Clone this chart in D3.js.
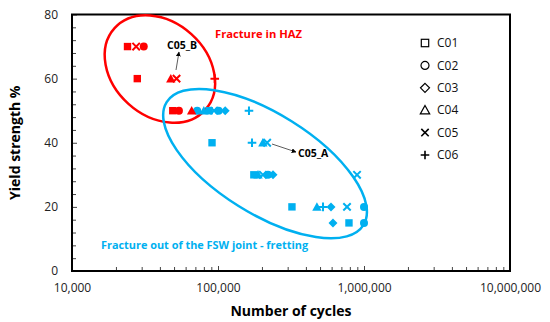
<!DOCTYPE html>
<html>
<head>
<meta charset="utf-8">
<script src="https://cdn.jsdelivr.net/npm/d3@7"></script>
<style>
  body { margin: 0; background: #fff; }
  svg { display: block; font-family: 'Open Sans', sans-serif; }
</style>
</head>
<body>
<div class="chart"></div>
<script>
'use strict'

// [cycles, yield strength %, fracture mode]  mode: 'haz' | 'fret'
const c01 = [
  [24000, 70, 'haz'], [28000, 60, 'haz'], [49000, 50, 'haz'],
  [87000, 50, 'fret'], [91000, 40, 'fret'], [176000, 30, 'fret'],
  [321000, 20, 'fret'], [789000, 15, 'fret']
]
const c02 = [
  [31000, 70, 'haz'], [54000, 50, 'haz'],
  [72000, 50, 'fret'], [101000, 50, 'fret'], [220000, 30, 'fret'],
  [1000000, 20, 'fret'], [1000000, 15, 'fret']
]
const c03 = [
  [112000, 50, 'fret'], [238000, 30, 'fret'],
  [594000, 20, 'fret'], [613000, 15, 'fret']
]
const c04 = [
  [47500, 60, 'haz'], [66000, 50, 'haz'],
  [80000, 50, 'fret'], [203000, 40, 'fret'], [188000, 30, 'fret'],
  [476000, 20, 'fret']
]
const c05 = [
  [27500, 70, 'haz'], [52000, 60, 'haz'],
  [94000, 50, 'fret'], [217000, 40, 'fret'], [203000, 30, 'fret'],
  [896000, 30, 'fret'], [765000, 20, 'fret']
]
const c06 = [
  [95000, 60, 'haz'],
  [163000, 50, 'fret'], [171000, 40, 'fret'], [524000, 20, 'fret']
]

const seriesNames = ['C01', 'C02', 'C03', 'C04', 'C05', 'C06']
const seriesData = [c01, c02, c03, c04, c05, c06]
const seriesShapes = ['square', 'circle', 'diamond', 'triangle', 'x', 'plus']

const xMajor = [1e4, 1e5, 1e6, 1e7]
const yMajor = [0, 20, 40, 60, 80]

const modeColor = { haz: '#ff0000', fret: '#00b0f0' }

const width = 550
const height = 322
const margin = { top: 14.5, right: 40, bottom: 51, left: 72 }

const x = d3.scaleLog()
    .domain([1e4, 1e7])
    .range([margin.left, width - margin.right])
const y = d3.scaleLinear()
    .domain([0, 80])
    .range([height - margin.bottom, margin.top])

const svg = d3.select('.chart').append('svg')
    .attr('width', width)
    .attr('height', height)

// minor ticks
const xMinor = []
for (let dec = 1e4; dec < 1e7; dec *= 10) {
  for (let k = 2; k < 10; k++) xMinor.push(dec * k)
}
const yMinor = d3.range(4, 80, 4).filter(v => v % 20 !== 0)

svg.append('g')
    .attr('transform', `translate(0,${y(0)})`)
    .call(d3.axisBottom(x).tickValues(xMinor).tickFormat('').tickSize(-4).tickSizeOuter(0))
    .call(g => g.select('.domain').remove())
svg.append('g')
    .attr('transform', `translate(${x(1e4)},0)`)
    .call(d3.axisLeft(y).tickValues(yMinor).tickFormat('').tickSize(-4).tickSizeOuter(0))
    .call(g => g.select('.domain').remove())

const xAxis = svg.append('g')
    .attr('transform', `translate(0,${y(0)})`)
    .call(d3.axisBottom(x).tickValues(xMajor).tickFormat(d3.format(',')).tickSize(-5).tickSizeOuter(0).tickPadding(12))
xAxis.select('.domain').remove()

const yAxis = svg.append('g')
    .attr('transform', `translate(${x(1e4)},0)`)
    .call(d3.axisLeft(y).tickValues(yMajor).tickSize(-5).tickSizeOuter(0).tickPadding(14))
yAxis.select('.domain').remove()

svg.selectAll('.tick text')
    .style('font-size', '12px')
    .style('font-family', "'Open Sans', sans-serif")
    .attr('fill', '#222')
svg.selectAll('.tick line').attr('stroke', '#444')

// plot frame
svg.append('rect')
    .attr('x', x(1e4))
    .attr('y', y(80))
    .attr('width', x(1e7) - x(1e4))
    .attr('height', y(0) - y(80))
    .attr('fill', 'none')
    .attr('stroke', '#000')
    .attr('stroke-width', 2)

// axis titles
svg.append('text')
    .attr('x', (x(1e4) + x(1e7)) / 2)
    .attr('y', 316)
    .attr('text-anchor', 'middle')
    .style('font-size', '14px')
    .style('font-weight', 'bold')
    .text('Number of cycles')

svg.append('text')
    .attr('transform', `translate(20,${(y(0) + y(80)) / 2}) rotate(-90)`)
    .attr('text-anchor', 'middle')
    .style('font-size', '14px')
    .style('font-weight', 'bold')
    .text('Yield strength %')

// ellipses round the two groups
const zones = [
  { c: [40000, 63], rx: 61, ry: 47, rot: 42, color: modeColor.haz },
  { c: [210000, 33.5], rx: 116, ry: 50, rot: 32, color: modeColor.fret }
]
svg.selectAll('.zone')
    .data(zones)
  .enter().append('ellipse')
    .attr('class', 'zone')
    .attr('transform', d => `translate(${x(d.c[0])},${y(d.c[1])}) rotate(${d.rot})`)
    .attr('rx', d => d.rx)
    .attr('ry', d => d.ry)
    .attr('fill', 'none')
    .attr('stroke', d => d.color)
    .attr('stroke-width', 2.5)

// markers
function drawShape(sel, shape, color, filled) {
  const s = 3.7
  if (shape === 'square') {
    sel.append('rect').attr('x', -s).attr('y', -s).attr('width', 2 * s).attr('height', 2 * s)
  } else if (shape === 'circle') {
    sel.append('circle').attr('r', s + 0.3)
  } else if (shape === 'diamond') {
    const r = s + 0.8
    sel.append('path').attr('d', `M0,${-r}L${r},0L0,${r}L${-r},0Z`)
  } else if (shape === 'triangle') {
    const r = s + 1
    sel.append('path').attr('d', `M0,${-r}L${r},${r * 0.8}L${-r},${r * 0.8}Z`)
  } else if (shape === 'x') {
    sel.append('path').attr('d', `M${-s},${-s}L${s},${s}M${s},${-s}L${-s},${s}`)
  } else {
    const r = s + 0.6
    sel.append('path').attr('d', `M${-r},0L${r},0M0,${-r}L0,${r}`)
  }
  const stroked = shape === 'x' || shape === 'plus'
  sel.selectAll('*')
      .attr('fill', stroked ? 'none' : (filled ? color : '#fff'))
      .attr('stroke', color)
      .attr('stroke-width', stroked ? 2 : (filled ? 0 : 1.3))
}

seriesData.forEach((pts, i) => {
  pts.forEach(p => {
    const g = svg.append('g')
        .attr('transform', `translate(${x(p[0])},${y(p[1])})`)
    drawShape(g, seriesShapes[i], modeColor[p[2]], true)
  })
})

// legend
const legend = svg.append('g')
    .attr('transform', 'translate(425,43)')
seriesNames.forEach((name, i) => {
  const g = legend.append('g')
      .attr('transform', `translate(0,${i * 22.4})`)
  drawShape(g, seriesShapes[i], '#000', false)
  g.selectAll('*').attr('stroke-width', seriesShapes[i] === 'x' || seriesShapes[i] === 'plus' ? 1.6 : 1.2)
  g.append('text')
      .attr('x', 12)
      .attr('dy', '0.35em')
      .style('font-size', '12px')
      .attr('fill', '#111')
      .text(name)
})

// annotations
svg.append('text')
    .attr('x', 215)
    .attr('y', 38)
    .attr('fill', modeColor.haz)
    .style('font-size', '11.2px')
    .style('font-weight', 'bold')
    .text('Fracture in HAZ')

svg.append('text')
    .attr('x', 101)
    .attr('y', 249)
    .attr('fill', modeColor.fret)
    .style('font-size', '10.9px')
    .style('font-weight', 'bold')
    .text('Fracture out of the FSW joint - fretting')

svg.append('defs').append('marker')
    .attr('id', 'arrow')
    .attr('viewBox', '0 0 10 10')
    .attr('refX', 9)
    .attr('refY', 5)
    .attr('markerWidth', 6)
    .attr('markerHeight', 6)
    .attr('orient', 'auto')
  .append('path')
    .attr('d', 'M0,0L10,5L0,10Z')
    .attr('fill', '#000')

const callouts = [
  { text: 'C05_B', tx: 167, ty: 49, from: [176, 70], to: [179, 52] },
  { text: 'C05_A', tx: 298, ty: 157, from: [272, 144], to: [296, 152] }
]
callouts.forEach(c => {
  svg.append('line')
      .attr('x1', c.from[0]).attr('y1', c.from[1])
      .attr('x2', c.to[0]).attr('y2', c.to[1])
      .attr('stroke', '#333')
      .attr('stroke-width', 0.8)
      .attr('marker-end', 'url(#arrow)')
  svg.append('text')
      .attr('x', c.tx)
      .attr('y', c.ty)
      .style('font-size', '10.5px')
      .style('font-weight', 'bold')
      .text(c.text)
})
</script>
</body>
</html>
